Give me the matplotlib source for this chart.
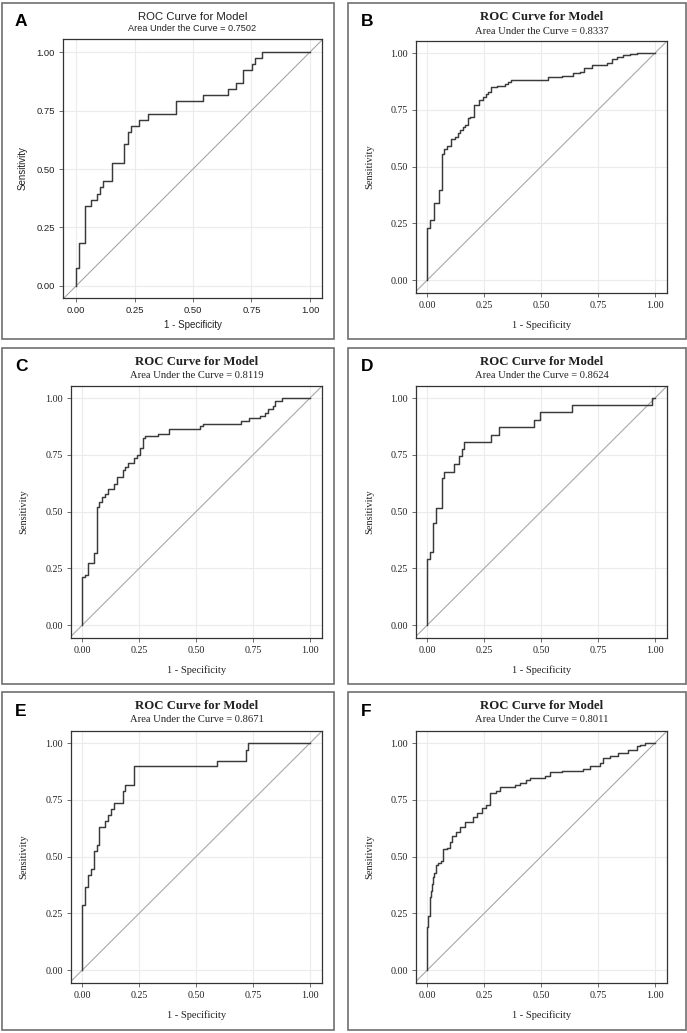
import matplotlib
matplotlib.use("Agg")
import matplotlib.pyplot as plt
from matplotlib.patches import Rectangle

W, H = 687, 1033

# ---------------- data ----------------
panel_labels = ["A", "B", "C", "D", "E", "F"]
auc_values = ["0.7502", "0.8337", "0.8119", "0.8624", "0.8671", "0.8011"]
tick_vals = [0.0, 0.25, 0.5, 0.75, 1.0]
tick_labels = ["0.00", "0.25", "0.50", "0.75", "1.00"]

fpr_A = [0, 0, 0.011, 0.038, 0.063, 0.088, 0.103, 0.114, 0.155, 0.205, 0.221, 0.234,
         0.271, 0.309, 0.426, 0.544, 0.648, 0.685, 0.715, 0.754, 0.765, 0.793, 1.0]
tpr_A = [0, 0.079, 0.184, 0.342, 0.368, 0.395, 0.421, 0.447, 0.526, 0.605, 0.658, 0.684,
         0.711, 0.737, 0.789, 0.816, 0.842, 0.868, 0.921, 0.947, 0.974, 1.0, 1.0]

fpr_B = [0, 0, 0.013, 0.028, 0.05, 0.066, 0.075, 0.086, 0.104, 0.121, 0.133, 0.145, 0.156,
         0.167, 0.177, 0.189, 0.203, 0.229, 0.244, 0.256, 0.268, 0.279, 0.306, 0.342, 0.354,
         0.367, 0.528, 0.593, 0.642, 0.671, 0.686, 0.722, 0.788, 0.81, 0.832, 0.861, 0.89,
         0.922, 1.0]
tpr_B = [0, 0.23, 0.264, 0.338, 0.396, 0.555, 0.576, 0.59, 0.62, 0.631, 0.646, 0.661, 0.673,
         0.683, 0.712, 0.72, 0.769, 0.793, 0.805, 0.818, 0.83, 0.849, 0.855, 0.863, 0.874,
         0.881, 0.893, 0.899, 0.91, 0.918, 0.933, 0.947, 0.954, 0.972, 0.984, 0.991, 0.996,
         1.0, 1.0]

fpr_C = [0, 0, 0.012, 0.027, 0.052, 0.066, 0.075, 0.088, 0.1, 0.115, 0.141, 0.151, 0.177,
         0.187, 0.202, 0.228, 0.239, 0.253, 0.265, 0.275, 0.331, 0.38, 0.516, 0.531, 0.696,
         0.734, 0.78, 0.802, 0.814, 0.839, 0.846, 0.876, 1.0]
tpr_C = [0, 0.213, 0.22, 0.272, 0.316, 0.522, 0.544, 0.566, 0.579, 0.6, 0.621, 0.654, 0.684,
         0.696, 0.713, 0.735, 0.747, 0.779, 0.824, 0.831, 0.843, 0.865, 0.875, 0.885, 0.897,
         0.912, 0.922, 0.934, 0.952, 0.963, 0.988, 1.0, 1.0]

fpr_D = [0, 0, 0.012, 0.026, 0.038, 0.064, 0.075, 0.119, 0.141, 0.151, 0.163, 0.278, 0.315,
         0.469, 0.495, 0.634, 0.985, 1.0]
tpr_D = [0, 0.29, 0.32, 0.451, 0.515, 0.647, 0.676, 0.709, 0.743, 0.775, 0.806, 0.838, 0.871,
         0.904, 0.938, 0.968, 1.0, 1.0]

fpr_E = [0, 0, 0.012, 0.026, 0.038, 0.051, 0.064, 0.075, 0.101, 0.114, 0.126, 0.139, 0.177,
         0.187, 0.228, 0.593, 0.719, 0.729, 1.0]
tpr_E = [0, 0.287, 0.366, 0.419, 0.446, 0.525, 0.551, 0.632, 0.657, 0.684, 0.71, 0.735, 0.79,
         0.816, 0.897, 0.922, 0.971, 1.0, 1.0]

fpr_F = [0, 0, 0.004, 0.01, 0.015, 0.02, 0.025, 0.029, 0.038, 0.048, 0.059, 0.068, 0.085,
         0.1, 0.11, 0.126, 0.144, 0.166, 0.202, 0.217, 0.239, 0.256, 0.275, 0.302, 0.319,
         0.385, 0.407, 0.433, 0.451, 0.517, 0.539, 0.59, 0.685, 0.715, 0.758, 0.77, 0.802,
         0.839, 0.883, 0.92, 0.934, 0.956, 1.0]
tpr_F = [0, 0.19, 0.24, 0.32, 0.35, 0.38, 0.41, 0.426, 0.463, 0.471, 0.481, 0.532, 0.537,
         0.566, 0.591, 0.61, 0.632, 0.654, 0.674, 0.691, 0.713, 0.728, 0.779, 0.79, 0.806,
         0.816, 0.826, 0.835, 0.846, 0.856, 0.872, 0.878, 0.887, 0.897, 0.912, 0.934, 0.944,
         0.956, 0.968, 0.985, 0.993, 1.0, 1.0]

fprs = [fpr_A, fpr_B, fpr_C, fpr_D, fpr_E, fpr_F]
tprs = [tpr_A, tpr_B, tpr_C, tpr_D, tpr_E, tpr_F]

# ---------------- layout (pixels) ----------------
boxes = [(2, 3, 334, 339), (348, 3, 686, 339),
         (2, 348, 334, 684), (348, 348, 686, 684),
         (2, 692, 334, 1030), (348, 692, 686, 1030)]
frames = [(63, 39, 322, 298), (416, 41, 667, 293),
          (71, 386, 322, 638), (416, 386, 667, 638),
          (71, 731, 322, 983), (416, 731, 667, 983)]

fig = plt.figure(figsize=(W / 100, H / 100), dpi=100)
fig.patch.set_facecolor("white")

for i in range(6):
    bx0, by0, bx1, by1 = boxes[i]
    fig.patches.append(Rectangle((bx0 / W, 1 - by1 / H), (bx1 - bx0) / W, (by1 - by0) / H,
                                 transform=fig.transFigure, fill=False,
                                 edgecolor="#707070", linewidth=1.2, zorder=0))
    l, t, r, b = frames[i]
    ax = fig.add_axes([l / W, 1 - b / H, (r - l) / W, (b - t) / H])
    sans = (i == 0)
    fam = "Liberation Sans" if sans else "Liberation Serif"

    if sans:
        ax.set_xlim(-0.0556, 1.0513)
        ax.set_ylim(-0.0513, 1.0556)
    else:
        ax.set_xlim(-0.0496, 1.0527)
        ax.set_ylim(-0.057, 1.053)

    ax.grid(True, color="#ebebeb", linewidth=0.8, zorder=0)
    ax.set_axisbelow(True)
    ax.plot([-0.2, 1.2], [-0.2, 1.2], color="#a8a8a8", linewidth=0.8, zorder=2)
    ax.step(fprs[i], tprs[i], where="post", color="#3a3a3a", linewidth=1.05, zorder=3)

    ax.set_xticks(tick_vals)
    ax.set_yticks(tick_vals)
    fs_tick = 6.8 if sans else 7.2
    ax.set_xticklabels(tick_labels, family=fam, fontsize=fs_tick, color="#222222")
    ax.set_yticklabels(tick_labels, family=fam, fontsize=fs_tick, color="#222222")
    ax.tick_params(length=3, width=0.6, color="#555555", pad=3)
    for sp in ax.spines.values():
        sp.set_color("#333333")
        sp.set_linewidth(0.9)

    ax.set_xlabel("1 - Specificity", family=fam, fontsize=7.5 if not sans else 7, color="#222222")
    ax.set_ylabel("Sensitivity", family=fam, fontsize=7.5 if not sans else 7, color="#222222")
    fh = (b - t)
    fw = (r - l)
    xlab_top = b + (22 if sans else 27)
    ax.xaxis.set_label_coords(0.5, -(xlab_top - b) / fh)
    ylab_right = bx0 + 21 + 5
    ax.yaxis.set_label_coords((ylab_right - l) / fw, 0.5)

    cx = (l + r) / 2 / W
    if sans:
        fig.text(cx, 1 - (by0 + 14) / H, "ROC Curve for Model", family=fam, fontsize=8.2,
                 ha="center", va="center", color="#222222")
        fig.text(cx, 1 - (by0 + 25.5) / H, "Area Under the Curve = " + auc_values[i], family=fam,
                 fontsize=6.6, ha="center", va="center", color="#222222")
    else:
        fig.text(cx, 1 - (by0 + 14) / H, "ROC Curve for Model", family=fam, fontsize=9.2,
                 fontweight="bold", ha="center", va="center", color="#222222")
        fig.text(cx, 1 - (by0 + 28) / H, "Area Under the Curve = " + auc_values[i], family=fam,
                 fontsize=7.6, ha="center", va="center", color="#222222")

    fig.text((bx0 + 13) / W, 1 - (by0 + 19) / H, panel_labels[i], family="Liberation Sans",
             fontsize=12.5, fontweight="bold", ha="left", va="center", color="black")

fig.savefig("out.png", dpi=100)
